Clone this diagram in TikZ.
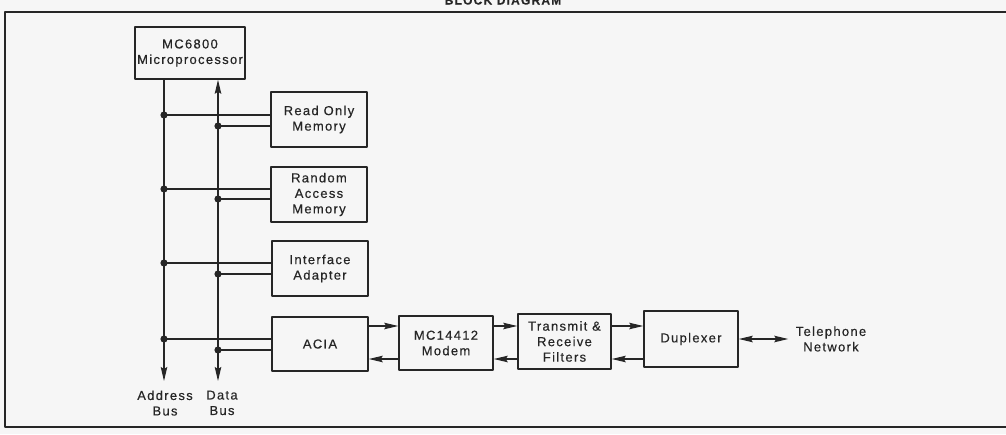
\documentclass[tikz,border=0pt]{standalone}
\usepackage{fontspec}
\usepackage{tikz}
\usetikzlibrary{arrows.meta}

\newfontfamily\blockfont{Liberation Sans}[LetterSpace=10,FakeBold=0.4]
\definecolor{ink}{gray}{0.15}
\definecolor{paper}{gray}{0.965}

\begin{document}
\begin{tikzpicture}[x=1pt, y=-1pt, font=\blockfont\fontsize{13}{15.5}\selectfont, line cap=round, line join=round, color=ink,
    >={Stealth[length=14pt,width=6.5pt,inset=2pt]}]
    \fill[paper] (0,0) rectangle (1006,434);
    \useasboundingbox (0,0) rectangle (1006,434);

    % ===== styles =====
    \tikzset{
        blk/.style={draw, line width=1.5pt, minimum width=96pt, minimum height=55pt, align=center, inner sep=2pt},
        bus/.style={line width=1.3pt}
    }

    % ===== title + frame =====
    \node[font=\blockfont\bfseries\fontsize{12}{14}\selectfont, anchor=base] (title) at (503,4.5) {BLOCK DIAGRAM};
    \draw[line width=2.4pt] (1012,12) -- (5,12) -- (5,427) -- (1012,427);

    % ===== blocks =====
    \node[blk, minimum width=110pt, minimum height=52pt] (cpu) at (190,53) {MC6800\\Microprocessor};
    \node[blk] (rom) at (319,119.5) {Read Only\\Memory};
    \node[blk] (ram) at (319,194.5) {Random\\Access\\Memory};
    \node[blk] (pia) at (320,268.5) {Interface\\Adapter};
    \node[blk, minimum height=54pt] (acia) at (320,344) {ACIA};
    \node[blk, minimum width=94pt, minimum height=54pt] (modem) at (446,343) {MC14412\\Modem};
    \node[blk, minimum width=93pt] (filt) at (564.5,341.5) {Transmit \&\\Receive\\Filters};
    \node[blk, minimum width=94pt, minimum height=56pt] (dup) at (691,339) {Duplexer};
    \node[align=center] (tel) at (831,339) {Telephone\\Network};

    % ===== address / data bus =====
    \coordinate (abus) at (164,381);
    \coordinate (dbus) at (218,381);
    \draw[bus,->] (cpu.south -| abus) -- (abus);
    \draw[bus,<->] (cpu.south -| dbus) -- (dbus);
    \node[align=center, anchor=north] (alab) at (165,387) {Address\\Bus};
    \node[align=center, anchor=north] (dlab) at (222,387) {Data\\Bus};

    % ===== taps from the buses =====
    \foreach \dev/\ya/\yd in {rom/115/126, ram/189/199, pia/263/274, acia/339/350}{
        \coordinate (a-\dev) at (164,\ya);
        \coordinate (d-\dev) at (218,\yd);
        \draw[bus] (a-\dev) -- (a-\dev -| \dev.west);
        \draw[bus] (d-\dev) -- (d-\dev -| \dev.west);
        \fill (a-\dev) circle (3.6);
        \fill (d-\dev) circle (3.6);
    }

    % ===== transmit (top) and receive (bottom) paths =====
    \coordinate (hi) at (0,326);
    \coordinate (lo) at (0,359);
    \foreach \a/\b in {acia/modem, modem/filt, filt/dup}{
        \draw[bus,->] (\a.east |- hi) -- (\b.west |- hi);
        \draw[bus,->] (\b.west |- lo) -- (\a.east |- lo);
    }
    \draw[bus,<->, shorten >=4pt] (dup.east |- tel) -- (tel.west);
\end{tikzpicture}
\end{document}
